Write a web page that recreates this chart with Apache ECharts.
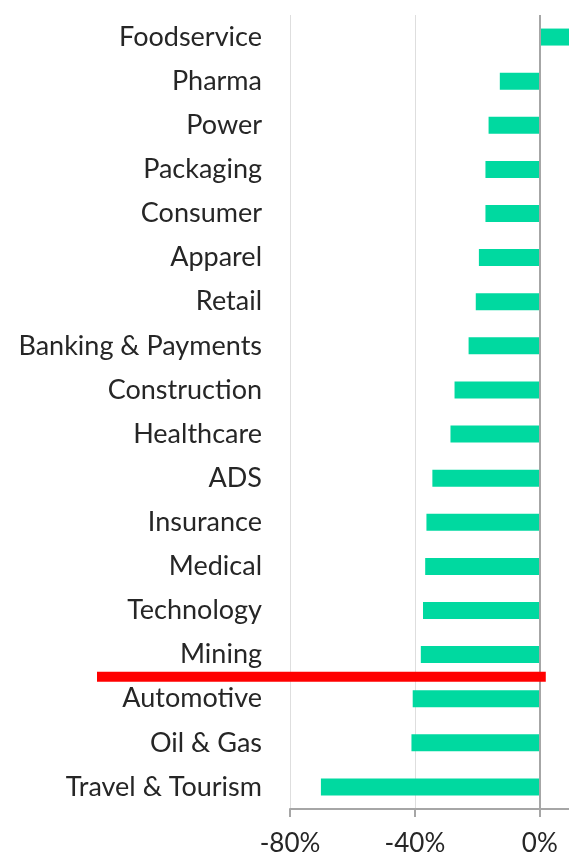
<!DOCTYPE html>
<html>
<head>
<meta charset="utf-8">
<script src="https://cdn.jsdelivr.net/npm/echarts@6/dist/echarts.min.js"></script>
<style>
  html, body { margin: 0; padding: 0; background: #fff; overflow: hidden; }
  #chart { width: 569px; height: 857px; }
</style>
</head>
<body>
<div id="chart"></div>
<script>
const sectors = [
    'Foodservice', 'Pharma', 'Power', 'Packaging', 'Consumer', 'Apparel',
    'Retail', 'Banking & Payments', 'Construction', 'Healthcare', 'ADS',
    'Insurance', 'Medical', 'Technology', 'Mining', 'Automotive',
    'Oil & Gas', 'Travel & Tourism'
];

// change, as fraction
const change = [
    0.10, -0.128, -0.164, -0.174, -0.174, -0.195,
    -0.205, -0.228, -0.273, -0.286, -0.344,
    -0.363, -0.367, -0.374, -0.381, -0.407,
    -0.411, -0.701
];

const xTicks = [-0.8, -0.4, 0];

const labelFont = 'Lato, "Open Sans", sans-serif';

const chart = echarts.init(document.getElementById('chart'));

chart.setOption({
    animation: false,
    grid: { left: 290, width: 281, top: 15, height: 794, outerBoundsMode: 'none' },
    xAxis: {
        type: 'value',
        min: -0.8,
        max: 0.1,
        interval: 0.4,
        axisLine: { show: true, onZero: false, lineStyle: { color: '#a6a6a6', width: 2 } },
        axisTick: { show: true, length: 8, lineStyle: { color: '#a6a6a6', width: 2 } },
        splitLine: { show: true, lineStyle: { color: '#dedede', width: 1 } },
        axisLabel: {
            color: '#262626',
            fontFamily: labelFont,
            fontSize: 26,
            margin: 22,
            formatter: v => xTicks.some(t => Math.abs(t - v) < 1e-9) ? Math.round(v * 100) + '%' : ''
        }
    },
    yAxis: {
        type: 'category',
        inverse: true,
        data: sectors,
        axisLine: { show: false },
        axisTick: { show: false },
        axisLabel: {
            color: '#262626',
            fontFamily: labelFont,
            fontSize: 27,
            margin: 28
        }
    },
    series: [{
        type: 'bar',
        data: change,
        barWidth: 17,
        itemStyle: { color: '#00d9a0' },
        markLine: {
            silent: true,
            symbol: 'none',
            label: { show: false },
            lineStyle: { color: '#a6a6a6', width: 2, type: 'solid' },
            data: [{ xAxis: 0 }]
        }
    }]
});

// red separator between Mining and Automotive
const yA = chart.convertToPixel({ yAxisIndex: 0 }, 'Mining');
const yB = chart.convertToPixel({ yAxisIndex: 0 }, 'Automotive');
const x0 = chart.convertToPixel({ xAxisIndex: 0 }, 0);
const gridLeft = chart.convertToPixel({ xAxisIndex: 0 }, -0.8);
const sepY = (yA + yB) / 2;

chart.setOption({
    graphic: [{
        type: 'rect',
        silent: true,
        z: 100,
        shape: { x: gridLeft - 193, y: sepY - 5, width: x0 + 6 - (gridLeft - 193), height: 10 },
        style: { fill: '#ff0000' }
    }]
});
</script>
</body>
</html>
